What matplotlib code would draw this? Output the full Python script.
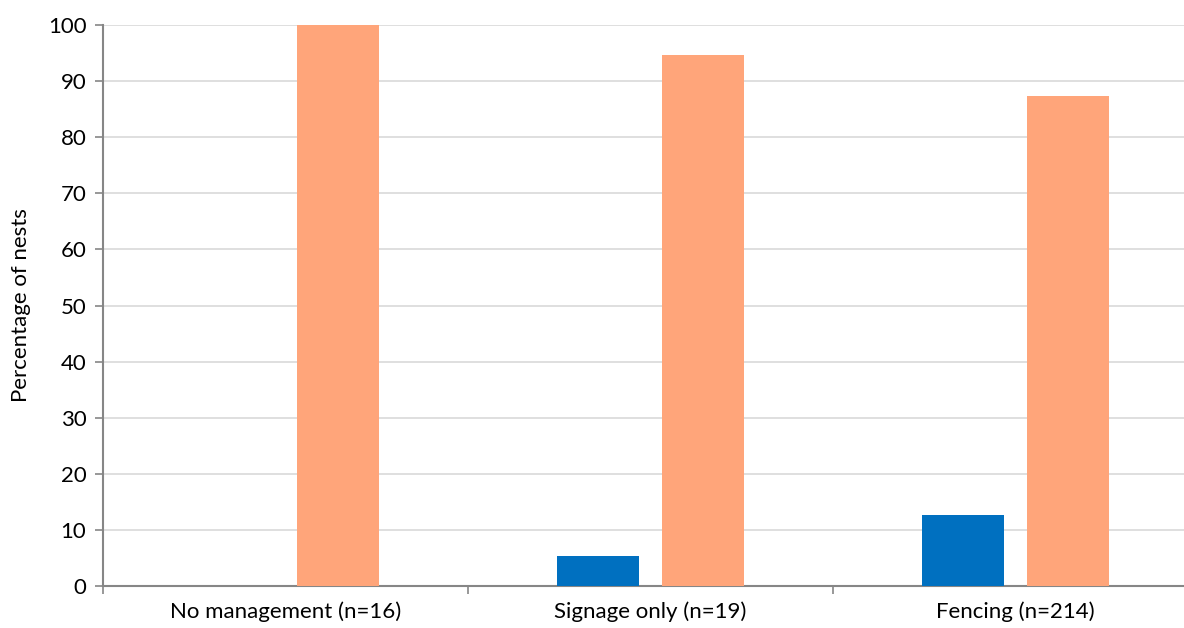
import matplotlib.pyplot as plt
import numpy as np

plt.switch_backend('Agg')

categories = ['No management (n=16)', 'Signage only (n=19)', 'Fencing (n=214)']
blue_vals = [0, 5.3, 12.6]
orange_vals = [100, 94.7, 87.4]
yticks = [0, 10, 20, 30, 40, 50, 60, 70, 80, 90, 100]

plt.rcParams['font.family'] = ['Lato', 'DejaVu Sans']
fs = 16

fig = plt.figure(figsize=(11.84, 6.28), dpi=100)
# axes runs a bit past the right edge, like the cropped original
ax = fig.add_axes([103 / 1184, 42 / 628, 1095 / 1184, 561 / 628])

x = np.arange(len(categories))
w = 0.225
off = 0.144
ax.bar(x - off, blue_vals, w, color='#0070C0', zorder=3)
ax.bar(x + off, orange_vals, w, color='#FFA57A', zorder=3)

ax.set_xlim(-0.5, 2.5)
ax.set_ylim(0, 100)
ax.set_yticks(yticks)
ax.set_yticklabels([str(v) for v in yticks], fontsize=fs)
ax.yaxis.grid(True, color='#D9D9D9', linewidth=1.2, zorder=0)

ax.set_xticks([-0.5, 0.5, 1.5, 2.5])
ax.set_xticklabels([])
ax.set_xticks(x, minor=True)
ax.set_xticklabels(categories, minor=True, fontsize=fs)
ax.tick_params(axis='x', which='minor', length=0, pad=11)
ax.tick_params(axis='x', which='major', length=6, color='#868686', width=1.2)
ax.tick_params(axis='y', length=6, color='#868686', width=1.2, pad=6)

for s in ['top', 'right']:
    ax.spines[s].set_visible(False)
for s in ['left', 'bottom']:
    ax.spines[s].set_color('#868686')
    ax.spines[s].set_linewidth(1.5)

ax.set_ylabel('Percentage of nests', fontsize=fs, labelpad=12)

fig.savefig('out.png', dpi=100)
